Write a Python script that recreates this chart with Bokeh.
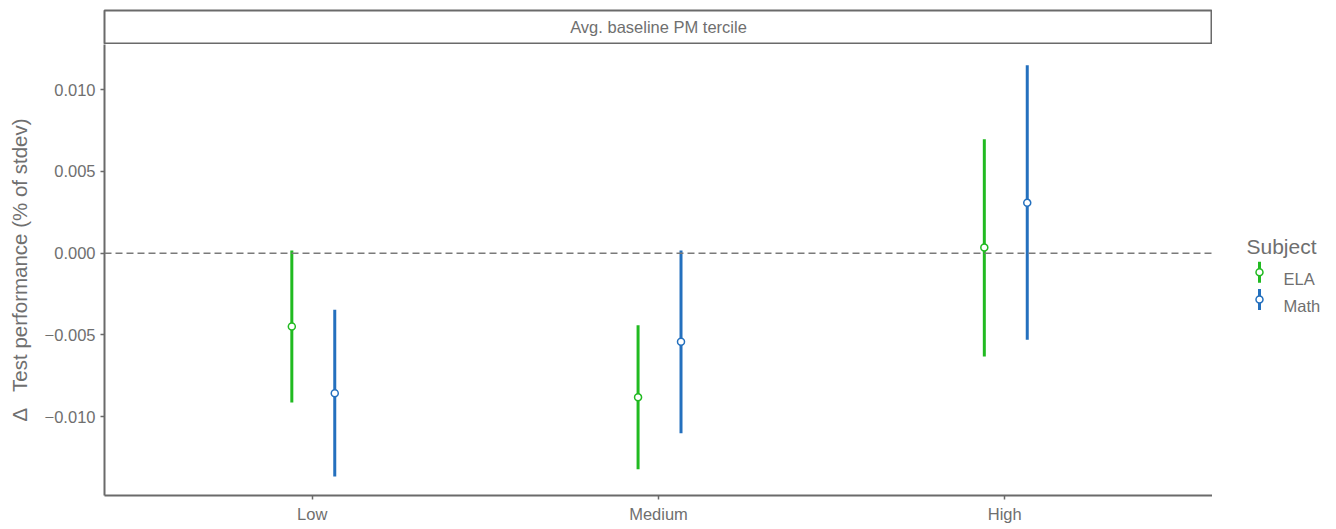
from bokeh.plotting import figure
from bokeh.models import (ColumnDataSource, Range1d, FactorRange, FixedTicker,
                          CustomJSTickFormatter, Span)
from bokeh.layouts import row, column
from bokeh.transform import dodge
from bokeh.core.properties import value
from bokeh.embed import file_html
from bokeh.resources import INLINE

# ---------------- data ----------------
categories = ["Low", "Medium", "High"]
subjects = ["ELA", "Math"]
ela_est = [-0.00448, -0.00881, 0.00035]
ela_lo = [-0.00913, -0.01321, -0.00632]
ela_hi = [0.00017, -0.00440, 0.00697]
math_est = [-0.00856, -0.00542, 0.00308]
math_lo = [-0.01366, -0.01101, -0.00530]
math_hi = [-0.00346, 0.00017, 0.01150]
y_ticks = [-0.010, -0.005, 0.0, 0.005, 0.010]

GREEN = "#21BA21"
BLUE = "#2470BE"
GREY_TXT = "#6f6f6f"
GREY_LINE = "#6a6a6a"
FONT = "Liberation Sans"

TOTAL_H = 527
STRIP_H = 44
MAIN_W = 1212
LEG_W = 112

# ---------------- strip (facet header) ----------------
strip = figure(width=MAIN_W, height=STRIP_H, x_range=Range1d(0, 1), y_range=Range1d(0, 1),
               output_backend="svg", toolbar_location=None,
               min_border_left=104, min_border_right=0, min_border_top=10, min_border_bottom=1)
strip.axis.visible = False
strip.grid.visible = False
strip.outline_line_color = GREY_LINE
strip.outline_line_width = 2
strip.background_fill_color = "white"
strip.text(x=[0.5], y=[0.5], text=["Avg. baseline PM tercile"], text_align="center",
           text_baseline="middle", text_font=value(FONT), text_font_size="16.5px",
           text_color=GREY_TXT)

# ---------------- main panel ----------------
p = figure(width=MAIN_W, height=TOTAL_H - STRIP_H,
           x_range=FactorRange(factors=categories, range_padding=0.1,
                               range_padding_units="absolute"),
           y_range=Range1d(-0.01482, 0.012765),
           output_backend="svg", toolbar_location=None,
           min_border_left=104, min_border_right=0, min_border_top=0,
           min_border_bottom=TOTAL_H - STRIP_H - 451)
p.outline_line_color = None
p.grid.visible = False

p.add_layout(Span(location=0, dimension="width", line_color="#7a7a7a", line_width=1.5,
                  line_dash="7 4"))

src_ela = ColumnDataSource(dict(cat=categories, est=ela_est, lo=ela_lo, hi=ela_hi))
src_math = ColumnDataSource(dict(cat=categories, est=math_est, lo=math_lo, hi=math_hi))

for src, off, col in [(src_ela, -0.059, GREEN), (src_math, 0.065, BLUE)]:
    xd = dodge("cat", off, range=p.x_range)
    p.segment(x0=xd, y0="lo", x1=xd, y1="hi", source=src, line_color=col, line_width=3)
    p.scatter(x=xd, y="est", source=src, size=7, fill_color="white", line_color=col,
              line_width=1.5)

for ax in (p.xaxis[0], p.yaxis[0]):
    ax.axis_line_color = GREY_LINE
    ax.axis_line_width = 2
    ax.major_tick_line_color = GREY_LINE
    ax.major_tick_line_width = 1.5
    ax.major_tick_out = 4
    ax.major_tick_in = 0
    ax.minor_tick_line_color = None
    ax.major_label_text_font = FONT
    ax.major_label_text_font_size = "16.5px"
    ax.major_label_text_color = GREY_TXT
    ax.major_label_standoff = 5

p.yaxis[0].ticker = FixedTicker(ticks=y_ticks)
p.yaxis[0].formatter = CustomJSTickFormatter(
    code="return tick.toFixed(3).replace('-', '\u2212');")
p.yaxis[0].axis_label = "\u0394\u2002\u00a0Test performance (% of stdev)"
p.yaxis[0].axis_label_text_font = FONT
p.yaxis[0].axis_label_text_font_size = "20.5px"
p.yaxis[0].axis_label_text_font_style = "normal"
p.yaxis[0].axis_label_text_color = GREY_TXT
p.yaxis[0].axis_label_standoff = 11

# ---------------- legend panel ----------------
leg = figure(width=LEG_W, height=TOTAL_H, x_range=Range1d(0, LEG_W),
             y_range=Range1d(TOTAL_H, 0),
             output_backend="svg", toolbar_location=None,
             min_border=0, min_border_left=0, min_border_right=0,
             min_border_top=0, min_border_bottom=0)
leg.axis.visible = False
leg.grid.visible = False
leg.outline_line_color = None

leg.text(x=[34], y=[246], text=["Subject"], text_font=value(FONT), text_font_size="21px",
         text_color=GREY_TXT, text_baseline="alphabetic", text_align="left")
key_y = [271.7, 299]
key_col = [GREEN, BLUE]
leg.segment(x0=[47, 47], y0=[y - 10.5 for y in key_y], x1=[47, 47],
            y1=[y + 10.5 for y in key_y], line_color=key_col, line_width=3)
leg.scatter(x=[47, 47], y=key_y, size=7, fill_color="white", line_color=key_col,
            line_width=1.5)
leg.text(x=[71, 71], y=[y + 6.5 for y in key_y], text=subjects, text_font=value(FONT),
         text_font_size="16.5px", text_color=GREY_TXT, text_baseline="alphabetic")

layout = row(column(strip, p, spacing=0), leg, spacing=0)

open("out.html", "w").write(file_html(layout, INLINE))
